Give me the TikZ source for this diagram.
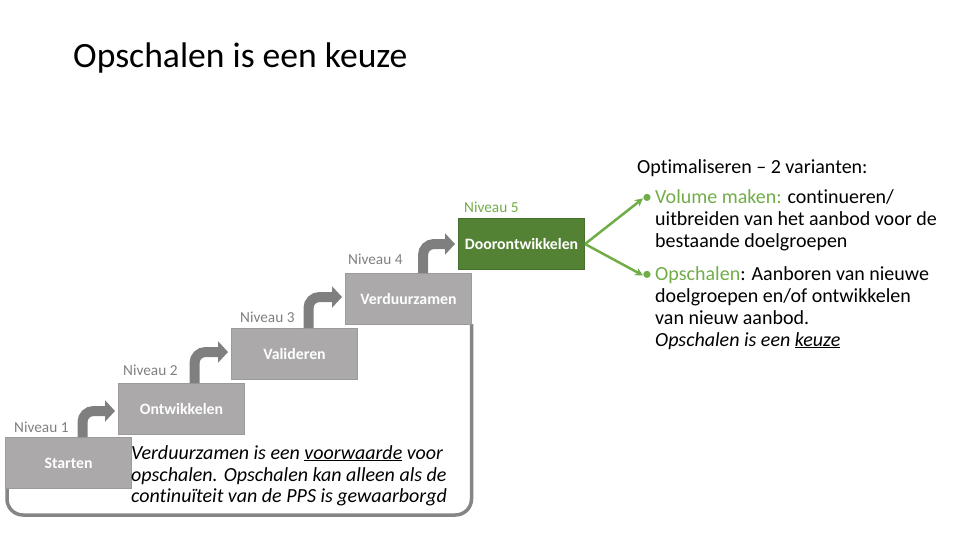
\documentclass[tikz,border=0pt]{standalone}
\usepackage{fontspec}
\setmainfont{Carlito}[Ligatures=NoCommon]
\usetikzlibrary{arrows.meta}
\definecolor{boxgray}{HTML}{ABA9A9}
\definecolor{boxedge}{HTML}{9C9A9A}
\definecolor{darkgreen}{HTML}{548235}
\definecolor{greenedge}{HTML}{45702B}
\definecolor{lightgreen}{HTML}{70AD47}
\definecolor{labelgray}{HTML}{7F7F7F}
\definecolor{arrowgray}{HTML}{7F7F7F}
\definecolor{loopgray}{HTML}{858585}
\begin{document}
\begin{tikzpicture}[x=1pt,y=-1pt,
  stepbox/.style={draw=boxedge, fill=boxgray, line width=1pt, minimum width=126pt,
    minimum height=51pt, inner sep=0pt, text=white, anchor=north west,
    font=\bfseries\fontsize{15.8}{18}\selectfont},
  greenbox/.style={stepbox, draw=greenedge, fill=darkgreen},
  levellabel/.style={anchor=base west, inner sep=0pt, text=labelgray, font=\fontsize{15.3}{17}\selectfont},
  bentarrow/.style={draw=arrowgray, line width=10pt, rounded corners=11pt,
    -{Triangle[width=21pt,length=10pt]}},
  greenarrow/.style={draw=lightgreen, line width=2.5pt, -{Stealth[width=8pt,length=8pt]}},
  looppath/.style={draw=loopgray, line width=3.5pt, rounded corners=16pt},
  bodytext/.style={anchor=base west, inner sep=0pt, font=\fontsize{20}{22}\selectfont},
  notetext/.style={anchor=base west, inner sep=0pt, font=\itshape\fontsize{20}{22}\selectfont},
]
\useasboundingbox (0,0) rectangle (960,540);

% title
\node[anchor=base west, inner sep=0pt, font=\fontsize{35.6}{40}\selectfont] (title) at (73,68) {Opschalen is een keuze};

% loop under the stairs
\coordinate (loopa) at (471.5,324);
\coordinate (loopb) at (7,488);
\draw[looppath] (loopa) -- (471.5,515) -- (7,515) -- (loopb);

% step boxes
\node[stepbox] (s1) at (5,437) {Starten};
\node[stepbox] (s2) at (118,383) {Ontwikkelen};
\node[stepbox] (s3) at (231,328) {Valideren};
\node[stepbox] (s4) at (345,273) {Verduurzamen};
\node[greenbox] (s5) at (458,218) {Doorontwikkelen};

% level labels
\node[levellabel] (n1) at (14,432) {Niveau 1};
\node[levellabel] (n2) at (123,375) {Niveau 2};
\node[levellabel] (n3) at (240,322) {Niveau 3};
\node[levellabel] (n4) at (348,264) {Niveau 4};
\node[levellabel, text=lightgreen] (n5) at (464,212) {Niveau 5};

% bent arrows
\draw[bentarrow] (s1.north -| 82.5,0) |- ([xshift=-3pt]s2.west |- 0,411);
\draw[bentarrow] (s2.north -| 194.5,0) |- ([xshift=-3pt]s3.west |- 0,352);
\draw[bentarrow] (s3.north -| 308.5,0) |- ([xshift=-3pt]s4.west |- 0,297);
\draw[bentarrow] (s4.north -| 423,0) |- ([xshift=-3pt]s5.west |- 0,244);

% note
\node[notetext] (note1) at (131,459) {Verduurzamen is een \underline{voorwaarde} voor};
\node[notetext] (note2) at (131,481) {opschalen. Opschalen kan alleen als de};
\node[notetext] (note3) at (131,502) {continuïteit van de PPS is gewaarborgd};

% right side text
\node[bodytext] (head) at (637,174) {Optimaliseren – 2 varianten:};
\node[bodytext, text=lightgreen] (bul1) at (642,203) {•};
\node[bodytext, text=lightgreen] (bul2) at (642,280) {•};
\node[bodytext] (a1) at (655,203) {\textcolor{lightgreen}{Volume maken:} continueren/};
\node[bodytext] (a2) at (655,225) {uitbreiden van het aanbod voor de};
\node[bodytext] (a3) at (655,247) {bestaande doelgroepen};
\node[bodytext] (b1) at (655,280) {\textcolor{lightgreen}{Opschalen}: Aanboren van nieuwe};
\node[bodytext] (b2) at (655,302) {doelgroepen en/of ontwikkelen};
\node[bodytext] (b3) at (655,324) {van nieuw aanbod.};
\node[bodytext, font=\itshape\fontsize{20}{22}\selectfont] (b4) at (655,346) {Opschalen is een \underline{keuze}};

% green arrows
\draw[greenarrow] (s5.east) -- ([xshift=1pt]bul1.west);
\draw[greenarrow] (s5.east) -- ([xshift=1pt]bul2.west);
\end{tikzpicture}
\end{document}
